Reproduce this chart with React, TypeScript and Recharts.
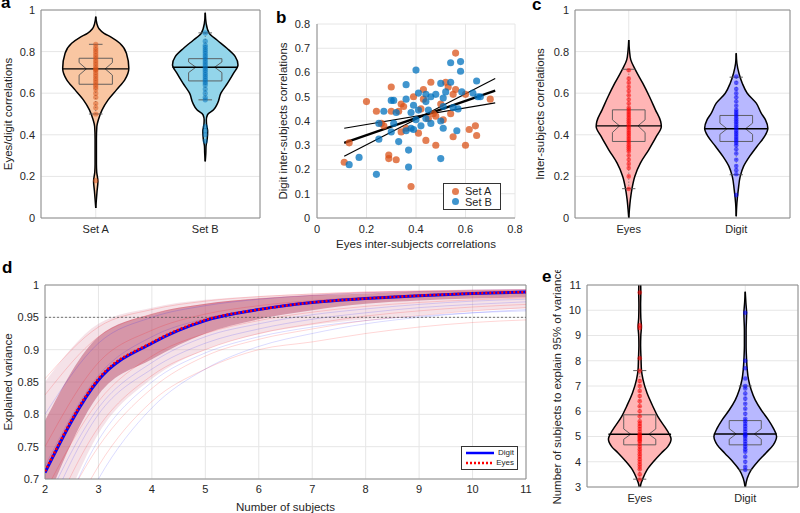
import React from 'react';
import {
  ComposedChart,
  Area,
  Line,
  Scatter,
  XAxis,
  YAxis,
  ZAxis,
  CartesianGrid,
  ReferenceArea,
  ReferenceLine,
  Legend,
} from 'recharts';

const FONT = "'Liberation Sans', Arial, Helvetica, sans-serif";
const INK = '#262626';
const GRID = '#e6e6e6';
const FRAME = '#8c8c8c';

// ---- panel a: eyes/digit correlations per set ----
const setNames = ['Set A', 'Set B'];
const setAViolinY = [0.048, 0.09, 0.13, 0.176, 0.22, 0.26, 0.32, 0.38, 0.44, 0.472, 0.52, 0.568, 0.616, 0.664, 0.72, 0.792, 0.84, 0.87, 0.888, 0.91, 0.935, 0.968];
const setAViolinW = [0, 0.006, 0.012, 0.02, 0.009, 0.006, 0.006, 0.006, 0.01, 0.024, 0.058, 0.113, 0.189, 0.265, 0.302, 0.28, 0.22, 0.14, 0.076, 0.03, 0.01, 0];
const setAStats = [0.5, 0.643, 0.687, 0.717, 0.747, 0.768, 0.835]; // capLo, q1, notchLo, median, notchHi, q3, capHi
const setADots = [0.18, 0.5, 0.53, 0.55, 0.58, 0.6, 0.62, 0.63, 0.64, 0.65, 0.66, 0.67, 0.68, 0.69, 0.7, 0.71, 0.715, 0.72, 0.73, 0.74, 0.75, 0.76, 0.77, 0.78, 0.79, 0.8, 0.81, 0.82, 0.835];

const setBViolinY = [0.272, 0.31, 0.344, 0.38, 0.417, 0.45, 0.472, 0.496, 0.52, 0.552, 0.6, 0.648, 0.696, 0.736, 0.776, 0.816, 0.856, 0.888, 0.936, 0.987];
const setBViolinW = [0, 0.005, 0.007, 0.018, 0.022, 0.012, 0.01, 0.02, 0.076, 0.113, 0.143, 0.204, 0.259, 0.299, 0.274, 0.198, 0.107, 0.037, 0.008, 0];
const setBStats = [0.568, 0.659, 0.699, 0.725, 0.75, 0.766, 0.89];
const setBDots = [0.37, 0.4, 0.42, 0.44, 0.568, 0.58, 0.6, 0.62, 0.64, 0.65, 0.66, 0.67, 0.68, 0.69, 0.7, 0.71, 0.72, 0.73, 0.74, 0.75, 0.76, 0.77, 0.78, 0.79, 0.8, 0.81, 0.82, 0.83, 0.85, 0.89];

// ---- panel b: inter-subject correlations scatter ----
const setAPoints = [
  [0.3, 0.54], [0.2, 0.48], [0.24, 0.44], [0.3, 0.44], [0.34, 0.47], [0.35, 0.46], [0.33, 0.44], [0.26, 0.39],
  [0.13, 0.31], [0.11, 0.23], [0.29, 0.26], [0.29, 0.245], [0.32, 0.24], [0.34, 0.355], [0.38, 0.13], [0.39, 0.5],
  [0.56, 0.68], [0.46, 0.56], [0.52, 0.56], [0.53, 0.54], [0.56, 0.53], [0.43, 0.53], [0.6, 0.51], [0.7, 0.49],
  [0.43, 0.49], [0.42, 0.45], [0.47, 0.43], [0.48, 0.42], [0.51, 0.405], [0.54, 0.43], [0.41, 0.35], [0.44, 0.32],
  [0.48, 0.3], [0.55, 0.335], [0.6, 0.3], [0.615, 0.365], [0.64, 0.38], [0.645, 0.34], [0.36, 0.37], [0.45, 0.41],
  [0.5, 0.47], [0.55, 0.51], [0.27, 0.38],
];
const setBPoints = [
  [0.36, 0.55], [0.3, 0.485], [0.31, 0.485], [0.36, 0.49], [0.27, 0.44], [0.32, 0.435], [0.25, 0.39], [0.31, 0.39],
  [0.3, 0.355], [0.25, 0.325], [0.33, 0.315], [0.37, 0.28], [0.17, 0.25], [0.13, 0.22], [0.24, 0.18], [0.37, 0.21],
  [0.36, 0.36], [0.39, 0.365], [0.38, 0.435], [0.41, 0.515], [0.54, 0.64], [0.58, 0.645], [0.58, 0.605], [0.4, 0.61],
  [0.5, 0.555], [0.54, 0.56], [0.52, 0.52], [0.585, 0.52], [0.645, 0.565], [0.63, 0.515], [0.65, 0.5], [0.44, 0.51],
  [0.46, 0.5], [0.48, 0.51], [0.51, 0.495], [0.44, 0.48], [0.51, 0.46], [0.55, 0.455], [0.57, 0.45], [0.39, 0.465],
  [0.41, 0.445], [0.45, 0.445], [0.4, 0.405], [0.44, 0.41], [0.46, 0.39], [0.5, 0.4], [0.42, 0.38], [0.38, 0.37],
  [0.51, 0.37], [0.565, 0.36], [0.5, 0.245], [0.66, 0.5],
];
const fitX = [0.11, 0.72];
const fitMid = [0.31, 0.525];
const fitFlat = [0.37, 0.475];
const fitSteep = [0.255, 0.575];

// ---- panel c: inter-subject correlations ----
const modalityNames = ['Eyes', 'Digit'];
const eyesCorrY = [0, 0.04, 0.088, 0.144, 0.2, 0.264, 0.328, 0.392, 0.44, 0.464, 0.52, 0.584, 0.648, 0.712, 0.76, 0.808, 0.856];
const eyesCorrW = [0, 0.006, 0.015, 0.031, 0.056, 0.108, 0.186, 0.257, 0.303, 0.297, 0.248, 0.192, 0.13, 0.062, 0.019, 0.006, 0];
const eyesCorrStats = [0.141, 0.368, 0.411, 0.443, 0.472, 0.52, 0.715];
const eyesCorrDots = [0.14, 0.2, 0.24, 0.26, 0.28, 0.3, 0.32, 0.33, 0.34, 0.35, 0.36, 0.37, 0.38, 0.39, 0.4, 0.41, 0.42, 0.43, 0.44, 0.45, 0.46, 0.47, 0.48, 0.49, 0.5, 0.51, 0.52, 0.53, 0.55, 0.57, 0.59, 0.61, 0.63, 0.65, 0.67, 0.71];
const digitCorrY = [0.008, 0.072, 0.136, 0.2, 0.248, 0.296, 0.344, 0.392, 0.432, 0.472, 0.504, 0.552, 0.6, 0.648, 0.696, 0.744, 0.792];
const digitCorrW = [0, 0.006, 0.019, 0.037, 0.068, 0.124, 0.192, 0.263, 0.294, 0.272, 0.232, 0.186, 0.102, 0.056, 0.025, 0.006, 0];
const digitCorrStats = [0.208, 0.368, 0.402, 0.429, 0.456, 0.493, 0.677];
const digitCorrDots = [0.11, 0.21, 0.23, 0.25, 0.28, 0.31, 0.33, 0.35, 0.36, 0.37, 0.38, 0.39, 0.4, 0.41, 0.42, 0.43, 0.44, 0.45, 0.46, 0.47, 0.48, 0.49, 0.5, 0.51, 0.52, 0.54, 0.56, 0.58, 0.6, 0.62, 0.65, 0.68];

// ---- panel d: explained variance vs number of subjects ----
const subjectsX = [2, 3, 4, 5, 6, 7, 8, 9, 10, 11];
const meanDigit = [0.71, 0.853, 0.91, 0.945, 0.962, 0.973, 0.979, 0.9835, 0.987, 0.989];
const meanEyes = [0.712, 0.855, 0.911, 0.946, 0.962, 0.973, 0.979, 0.9835, 0.987, 0.989];
const bandLow = [0.66, 0.83, 0.885, 0.925, 0.947, 0.961, 0.971, 0.976, 0.979, 0.981];
const bandHigh = [0.79, 0.92, 0.955, 0.971, 0.979, 0.984, 0.987, 0.99, 0.991, 0.992];
const haloLow = [0.58, 0.77, 0.855, 0.9, 0.924, 0.938, 0.947, 0.954, 0.96, 0.964];
const haloHigh = [0.85, 0.94, 0.965, 0.977, 0.983, 0.987, 0.99, 0.991, 0.993, 0.994];
const eyesRuns = [
  [0.855, 0.935, 0.962, 0.975, 0.982, 0.986, 0.989, 0.991, 0.992, 0.993],
  [0.83, 0.92, 0.955, 0.97, 0.979, 0.984, 0.988, 0.99, 0.991, 0.992],
  [0.62, 0.78, 0.86, 0.9, 0.925, 0.94, 0.952, 0.96, 0.966, 0.97],
  [0.55, 0.72, 0.82, 0.87, 0.9, 0.912, 0.925, 0.935, 0.942, 0.946],
  [0.6, 0.75, 0.84, 0.89, 0.916, 0.932, 0.945, 0.953, 0.96, 0.965],
  [0.68, 0.82, 0.89, 0.925, 0.945, 0.958, 0.967, 0.973, 0.977, 0.98],
  [0.75, 0.88, 0.93, 0.955, 0.968, 0.976, 0.981, 0.985, 0.988, 0.99],
];
const digitRuns = [
  [0.58, 0.76, 0.85, 0.895, 0.92, 0.935, 0.945, 0.952, 0.957, 0.96],
  [0.52, 0.7, 0.81, 0.87, 0.905, 0.925, 0.94, 0.95, 0.957, 0.962],
  [0.64, 0.8, 0.87, 0.91, 0.932, 0.947, 0.957, 0.965, 0.97, 0.974],
  [0.72, 0.86, 0.92, 0.948, 0.963, 0.973, 0.98, 0.984, 0.987, 0.989],
  [0.8, 0.91, 0.95, 0.968, 0.978, 0.984, 0.988, 0.99, 0.992, 0.993],
  [0.66, 0.81, 0.88, 0.92, 0.94, 0.954, 0.963, 0.97, 0.975, 0.978],
];
const varianceTicks = [0.7, 0.75, 0.8, 0.85, 0.9, 0.95, 1];

// ---- panel e: subjects needed for 95% variance ----
const eyesNeedY = [2.9, 3.09, 3.35, 3.68, 4.01, 4.34, 4.6, 4.9, 5.13, 5.4, 5.79, 6.19, 6.72, 7.25, 7.64, 8.1, 8.6, 9.0, 9.35, 9.7, 10.2, 10.7, 11.2];
const eyesNeedW = [0.004, 0.009, 0.031, 0.069, 0.131, 0.203, 0.266, 0.297, 0.275, 0.234, 0.172, 0.125, 0.069, 0.031, 0.016, 0.012, 0.008, 0.01, 0.016, 0.01, 0.008, 0.01, 0.008];
const eyesNeedStats = [3.31, 4.67, 4.89, 5.09, 5.3, 5.86, 7.61];
const eyesNeedDots = [3.3, 3.5, 3.7, 3.8, 3.9, 4.0, 4.1, 4.2, 4.3, 4.4, 4.5, 4.6, 4.7, 4.8, 4.85, 4.9, 4.95, 5.0, 5.05, 5.1, 5.2, 5.3, 5.4, 5.5, 5.6, 5.8, 6.0, 6.2, 6.4, 6.6, 6.8, 7.0, 7.2, 7.6, 8.1, 9.3, 9.4, 10.7];
const digitNeedY = [2.96, 3.35, 3.68, 4.01, 4.34, 4.67, 5.0, 5.33, 5.66, 6.06, 6.45, 6.85, 7.25, 7.64, 8.1, 8.6, 9.2, 9.87, 10.3, 10.73];
const digitNeedW = [0, 0.019, 0.056, 0.119, 0.194, 0.266, 0.297, 0.266, 0.219, 0.15, 0.094, 0.056, 0.031, 0.019, 0.012, 0.008, 0.008, 0.013, 0.006, 0];
const digitNeedStats = [3.68, 4.67, 4.89, 5.1, 5.31, 5.63, 7.0];
const digitNeedDots = [3.68, 3.8, 4.0, 4.2, 4.4, 4.5, 4.6, 4.7, 4.8, 4.9, 5.0, 5.05, 5.1, 5.2, 5.3, 5.4, 5.5, 5.6, 5.7, 5.9, 6.1, 6.3, 6.5, 6.7, 6.9, 7.0, 7.3, 7.7, 8.0, 9.9];

// ---- violin helpers ----
const BOX_HALF = 0.152;
const NOTCH_HALF = 0.086;
const CAP_HALF = 0.062;

interface ViolinSpec {
  ys: number[];
  ws: number[];
  stats: number[];
  dots: number[];
  fill: string;
  dotColor: string;
}

const violinRows = (c: number, ys: number[], ws: number[]) =>
  ys.map((y, i) => ({ y, x: [c - ws[i], c + ws[i]] }));

const boxRows = (c: number, s: number[]) => {
  const [, q1, nLo, med, nHi, q3] = s;
  return [
    { y: q3, x: c - BOX_HALF }, { y: q3, x: c + BOX_HALF }, { y: nHi, x: c + BOX_HALF },
    { y: med, x: c + NOTCH_HALF }, { y: nLo, x: c + BOX_HALF }, { y: q1, x: c + BOX_HALF },
    { y: q1, x: c - BOX_HALF }, { y: nLo, x: c - BOX_HALF }, { y: med, x: c - NOTCH_HALF },
    { y: nHi, x: c - BOX_HALF }, { y: q3, x: c - BOX_HALF },
  ];
};

const segRows = (c: number, y: number, half: number) => [
  { y, x: c - half },
  { y, x: c + half },
];

const tickStyle = { fontSize: 11, fill: INK, fontFamily: FONT };
const titleStyle = { textAnchor: 'middle' as const, fontSize: 11.5, fill: INK, fontFamily: FONT };

interface ViolinPanelProps {
  left: number;
  top: number;
  width: number;
  height: number;
  axisWidth: number;
  marginTop: number;
  marginRight: number;
  xAxisHeight: number;
  domain: [number, number];
  ticks: number[];
  names: string[];
  title: string;
  titleOffset: number;
  dotR: number;
  dotOpacity: number;
  specs: ViolinSpec[];
}

const plainLine = {
  dot: false,
  activeDot: false,
  isAnimationActive: false,
  legendType: 'none' as const,
};

const ViolinPanel: React.FC<ViolinPanelProps> = (p) => (
  <div style={{ position: 'absolute', left: p.left, top: p.top }}>
    <ComposedChart
      layout="vertical"
      width={p.width}
      height={p.height}
      margin={{ top: p.marginTop, right: p.marginRight, left: 0, bottom: 0 }}
    >
      <CartesianGrid stroke={GRID} />
      <XAxis
        type="number"
        domain={[0.5, 2.5]}
        ticks={[1, 2]}
        allowDataOverflow
        tickFormatter={(v: number) => p.names[v - 1]}
        axisLine={false}
        tickLine={false}
        tickSize={5}
        tickMargin={2}
        height={p.xAxisHeight}
        tick={tickStyle}
      />
      <YAxis
        type="number"
        dataKey="y"
        reversed
        domain={p.domain}
        ticks={p.ticks}
        allowDataOverflow
        axisLine={false}
        tickLine={false}
        tickSize={4}
        tickMargin={2}
        width={p.axisWidth}
        tick={tickStyle}
        label={{ value: p.title, angle: -90, position: 'insideLeft', offset: p.titleOffset, style: titleStyle }}
      />
      {p.specs.map((s, i) => {
        const c = i + 1;
        const medHalf = Math.max(...s.ws);
        return (
          <React.Fragment key={i}>
            <Area
              data={violinRows(c, s.ys, s.ws)}
              dataKey="x"
              type="monotone"
              fill={s.fill}
              fillOpacity={1}
              stroke="#000"
              strokeWidth={1.5}
              isAnimationActive={false}
              legendType="none"
            />
            <Line
              {...plainLine}
              data={[{ y: s.stats[0], x: c }, { y: s.stats[6], x: c }]}
              dataKey="x"
              stroke="#555"
              strokeWidth={0.8}
              strokeDasharray="1 2"
            />
            <Line {...plainLine} data={boxRows(c, s.stats)} dataKey="x" type="linear" stroke="#555" strokeWidth={0.9} />
            <Line {...plainLine} data={segRows(c, s.stats[3], medHalf)} dataKey="x" stroke="#000" strokeWidth={1.4} />
            <Line
              data={s.dots.map((y) => ({ y, x: c }))}
              dataKey="x"
              stroke="none"
              dot={{ r: p.dotR, fill: s.dotColor, fillOpacity: p.dotOpacity, stroke: 'none' }}
              activeDot={false}
              isAnimationActive={false}
              legendType="none"
            />
            <Line {...plainLine} data={segRows(c, s.stats[0], CAP_HALF)} dataKey="x" stroke="#555" strokeWidth={0.9} />
            <Line {...plainLine} data={segRows(c, s.stats[6], CAP_HALF)} dataKey="x" stroke="#555" strokeWidth={0.9} />
          </React.Fragment>
        );
      })}
      <ReferenceArea x1={0.5} x2={2.5} y1={p.domain[0]} y2={p.domain[1]} fill="none" stroke={FRAME} strokeWidth={1} />
    </ComposedChart>
  </div>
);

const setLegendNames = ['Set A', 'Set B'];

const SetLegend = (props: any) => (
  <div
    style={{
      border: '1px solid #333',
      background: '#fff',
      padding: '2px 5px 2px 8px',
      fontSize: 11,
      lineHeight: '10.5px',
      fontFamily: FONT,
      color: INK,
    }}
  >
    {(props.payload || [])
      .filter((e: any) => setLegendNames.includes(e.value))
      .map((e: any) => (
        <div key={e.value} style={{ display: 'flex', alignItems: 'center' }}>
          <span
            style={{
              display: 'inline-block',
              width: 7,
              height: 7,
              borderRadius: 4,
              background: e.color,
              opacity: 0.75,
              marginRight: 6,
            }}
          />
          {e.value}
        </div>
      ))}
  </div>
);

const meanStyles: Record<string, { stroke: string; dash?: string; w: number }> = {
  Digit: { stroke: '#0000ff', w: 2.5 },
  Eyes: { stroke: '#ff0000', dash: '2 2', w: 2.5 },
};

const MeanLegend = (props: any) => (
  <div
    style={{
      border: '1px solid #333',
      background: '#fff',
      padding: '1px 3px',
      fontSize: 8,
      lineHeight: '10px',
      fontFamily: FONT,
      color: INK,
    }}
  >
    {(props.payload || [])
      .filter((e: any) => meanStyles[e.value])
      .map((e: any) => {
        const st = meanStyles[e.value];
        return (
          <div key={e.value} style={{ display: 'flex', alignItems: 'center' }}>
            <svg width={30} height={6}>
              <line x1={1} y1={3} x2={29} y2={3} stroke={st.stroke} strokeWidth={st.w} strokeDasharray={st.dash} />
            </svg>
            <span style={{ marginLeft: 3 }}>{e.value}</span>
          </div>
        );
      })}
  </div>
);

const varianceRows = subjectsX.map((x, i) => {
  const row: Record<string, any> = {
    x,
    halo: [haloLow[i], haloHigh[i]],
    band: [bandLow[i], bandHigh[i]],
    digit: meanDigit[i],
    eyes: meanEyes[i],
  };
  eyesRuns.forEach((r, k) => (row['e' + k] = r[i]));
  digitRuns.forEach((r, k) => (row['d' + k] = r[i]));
  return row;
});

const fitRows = fitX.map((x, i) => ({ x, mid: fitMid[i], flat: fitFlat[i], steep: fitSteep[i] }));
const toXY = (pts: number[][]) => pts.map(([x, y]) => ({ x, y }));

const PanelLetter: React.FC<{ ch: string; left: number; top: number }> = ({ ch, left, top }) => (
  <div style={{ position: 'absolute', left, top, fontSize: 17, fontWeight: 'bold', fontFamily: FONT, lineHeight: '17px' }}>
    {ch}
  </div>
);

export default function App() {
  return (
    <div
      style={{
        position: 'absolute',
        left: 0,
        top: 0,
        width: 800,
        height: 513,
        background: '#fff',
        overflow: 'hidden',
        fontFamily: FONT,
      }}
    >
      {/* a */}
      <ViolinPanel
        left={0}
        top={0}
        width={270}
        height={250}
        axisWidth={41}
        marginTop={10}
        marginRight={10}
        xAxisHeight={32}
        domain={[0, 1]}
        ticks={[0, 0.2, 0.4, 0.6, 0.8, 1]}
        names={setNames}
        title="Eyes/digit correlations"
        titleOffset={8}
        dotR={2.6}
        dotOpacity={0.5}
        specs={[
          { ys: setAViolinY, ws: setAViolinW, stats: setAStats, dots: setADots, fill: '#f9c6a2', dotColor: '#d95319' },
          { ys: setBViolinY, ws: setBViolinW, stats: setBStats, dots: setBDots, fill: '#93d5ea', dotColor: '#0072bd' },
        ]}
      />

      {/* b */}
      <div style={{ position: 'absolute', left: 270, top: 0 }}>
        <ComposedChart width={260} height={260} margin={{ top: 24, right: 15, left: 0, bottom: 0 }}>
          <CartesianGrid stroke={GRID} />
          <XAxis
            type="number"
            dataKey="x"
            domain={[0, 0.8]}
            ticks={[0, 0.2, 0.4, 0.6, 0.8]}
            allowDataOverflow
            stroke={FRAME}
            tickLine={false}
            tickSize={5}
            tickMargin={2}
            height={42}
            tick={tickStyle}
            label={{ value: 'Eyes inter-subjects correlations', position: 'insideBottom', offset: 12, style: titleStyle }}
          />
          <YAxis
            type="number"
            dataKey="y"
            domain={[0, 0.8]}
            ticks={[0, 0.1, 0.2, 0.3, 0.4, 0.5, 0.6, 0.7, 0.8]}
            allowDataOverflow
            stroke={FRAME}
            tickLine={false}
            tickSize={5}
            tickMargin={2}
            width={47}
            tick={tickStyle}
            label={{ value: 'Digit inter-subjects correlations', angle: -90, position: 'insideLeft', offset: 13, style: titleStyle }}
          />
          <ZAxis type="number" range={[40, 40]} />
          <Scatter name="Set A" data={toXY(setAPoints)} fill="#d95319" fillOpacity={0.75} isAnimationActive={false} />
          <Scatter name="Set B" data={toXY(setBPoints)} fill="#0072bd" fillOpacity={0.75} isAnimationActive={false} />
          <Line {...plainLine} data={fitRows} dataKey="flat" stroke="#000" strokeWidth={1.2} />
          <Line {...plainLine} data={fitRows} dataKey="steep" stroke="#000" strokeWidth={1.2} />
          <Line {...plainLine} data={fitRows} dataKey="mid" stroke="#000" strokeWidth={2.4} />
          <Legend
            layout="horizontal"
            verticalAlign="middle"
            align="center"
            content={SetLegend}
            wrapperStyle={{ left: 173, top: 183, width: 58, height: 25 }}
          />
        </ComposedChart>
      </div>

      {/* c */}
      <ViolinPanel
        left={530}
        top={0}
        width={270}
        height={250}
        axisWidth={45}
        marginTop={10}
        marginRight={10}
        xAxisHeight={32}
        domain={[0, 1]}
        ticks={[0, 0.2, 0.4, 0.6, 0.8, 1]}
        names={modalityNames}
        title="Inter-subjects correlations"
        titleOffset={10}
        dotR={2.3}
        dotOpacity={0.55}
        specs={[
          { ys: eyesCorrY, ws: eyesCorrW, stats: eyesCorrStats, dots: eyesCorrDots, fill: '#ffb5b5', dotColor: '#ff0000' },
          { ys: digitCorrY, ws: digitCorrW, stats: digitCorrStats, dots: digitCorrDots, fill: '#b8b8ff', dotColor: '#0000ff' },
        ]}
      />

      {/* d */}
      <div style={{ position: 'absolute', left: 0, top: 270 }}>
        <ComposedChart width={540} height={243} data={varianceRows} margin={{ top: 15, right: 14, left: 0, bottom: 0 }}>
          <CartesianGrid stroke={GRID} />
          <XAxis
            type="number"
            dataKey="x"
            domain={[2, 11]}
            ticks={subjectsX}
            allowDataOverflow
            axisLine={false}
            tickLine={false}
            tickSize={4}
            tickMargin={2}
            height={34}
            tick={tickStyle}
            label={{ value: 'Number of subjects', position: 'insideBottom', offset: 2, style: titleStyle }}
          />
          <YAxis
            type="number"
            domain={[0.7, 1]}
            ticks={varianceTicks}
            allowDataOverflow
            axisLine={false}
            tickLine={false}
            tickSize={4}
            tickMargin={2}
            width={45}
            tick={tickStyle}
            label={{ value: 'Explained variance', angle: -90, position: 'insideLeft', offset: 8, style: titleStyle }}
          />
          <Area dataKey="halo" type="monotone" fill="#dc98ac" fillOpacity={0.28} stroke="none" isAnimationActive={false} legendType="none" />
          <Area dataKey="band" type="monotone" fill="#b84a68" fillOpacity={0.5} stroke="none" isAnimationActive={false} legendType="none" />
          {digitRuns.map((_, k) => (
            <Line {...plainLine} key={'d' + k} dataKey={'d' + k} type="monotone" stroke="#0000ff" strokeOpacity={0.14} strokeWidth={1} />
          ))}
          {eyesRuns.map((_, k) => (
            <Line {...plainLine} key={'e' + k} dataKey={'e' + k} type="monotone" stroke="#ff0000" strokeOpacity={0.16} strokeWidth={1} />
          ))}
          <ReferenceLine y={0.95} stroke="#555" strokeWidth={0.8} strokeDasharray="2 2" />
          <Line name="Digit" dataKey="digit" type="monotone" stroke="#0000ff" strokeWidth={3} dot={false} activeDot={false} isAnimationActive={false} />
          <Line name="Eyes" dataKey="eyes" type="monotone" stroke="#ff0000" strokeWidth={2.5} strokeDasharray="2 2" dot={false} activeDot={false} isAnimationActive={false} />
          <ReferenceArea x1={2} x2={11} y1={0.7} y2={1} fill="none" stroke={FRAME} strokeWidth={1} />
          <Legend
            layout="horizontal"
            verticalAlign="middle"
            align="center"
            content={MeanLegend}
            wrapperStyle={{ left: 461, top: 176, width: 57, height: 24 }}
          />
        </ComposedChart>
      </div>

      {/* e */}
      <ViolinPanel
        left={540}
        top={270}
        width={260}
        height={243}
        axisWidth={47}
        marginTop={15}
        marginRight={2}
        xAxisHeight={26}
        domain={[3, 11]}
        ticks={[3, 4, 5, 6, 7, 8, 9, 10, 11]}
        names={modalityNames}
        title="Number of subjects to explain 95% of variance"
        titleOffset={17}
        dotR={2.3}
        dotOpacity={0.55}
        specs={[
          { ys: eyesNeedY, ws: eyesNeedW, stats: eyesNeedStats, dots: eyesNeedDots, fill: '#ffb5b5', dotColor: '#ff0000' },
          { ys: digitNeedY, ws: digitNeedW, stats: digitNeedStats, dots: digitNeedDots, fill: '#b8b8ff', dotColor: '#0000ff' },
        ]}
      />

      <PanelLetter ch="a" left={1} top={-6} />
      <PanelLetter ch="b" left={276} top={9} />
      <PanelLetter ch="c" left={532} top={-4} />
      <PanelLetter ch="d" left={2} top={259} />
      <PanelLetter ch="e" left={542} top={268} />
    </div>
  );
}
